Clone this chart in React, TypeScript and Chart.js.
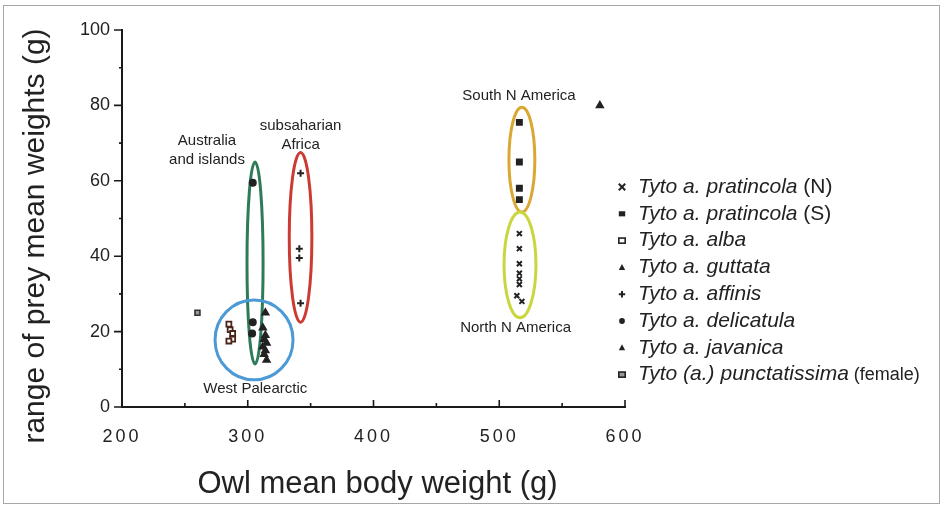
import React, { useEffect, useRef } from 'react';
import { Chart, registerables } from 'chart.js';

Chart.register(...registerables);

const FONT = '"Liberation Sans", Arial, Helvetica, sans-serif';

// ---------- data ----------
const seriesNames = [
  'Tyto a. pratincola (N)',
  'Tyto a. pratincola (S)',
  'Tyto a. alba',
  'Tyto a. guttata',
  'Tyto a. affinis',
  'Tyto a. delicatula',
  'Tyto a. javanica',
  'Tyto (a.) punctatissima (female)',
];
const legendItalic = [
  'Tyto a. pratincola',
  'Tyto a. pratincola',
  'Tyto a. alba',
  'Tyto a. guttata',
  'Tyto a. affinis',
  'Tyto a. delicatula',
  'Tyto a. javanica',
  'Tyto (a.) punctatissima',
];
const legendSuffix = [' (N)', ' (S)', '', '', '', '', '', ' (female)'];

const pratNX = [516, 516, 516, 516, 516, 516, 514, 518];
const pratNY = [46, 42, 38, 35.5, 34, 32.5, 29.5, 28];

const pratSX = [516, 516, 516, 516];
const pratSY = [75.5, 65, 58, 55];

const albaX = [285, 286, 288, 288, 285];
const albaY = [22, 20.5, 19.5, 18, 17.5];

const guttataX = [314, 312, 314, 313, 315, 312, 314, 313, 315];
const guttataY = [25, 21, 19, 18, 17, 16, 15, 14, 12.5];

const affinisX = [342, 341, 341, 342];
const affinisY = [62, 42, 39.5, 27.5];

const delicatulaX = [304, 304, 303.5];
const delicatulaY = [59.5, 22.5, 19.5];

const javanicaX = [580];
const javanicaY = [80];

const punctX = [260];
const punctY = [25];

const xTickValues = [200, 300, 400, 500, 600];
const xMinorTicks = [250, 350, 450, 550];
const yTickValues = [0, 20, 40, 60, 80, 100];
const yMinorTicks = [10, 30, 50, 70, 90];

// region ellipses (data units) and labels
const ellipseCX = [305.8, 342, 305, 518, 516.5];
const ellipseCY = [38.2, 45, 17.8, 65.6, 37.7];
const ellipseRX = [6.4, 9, 31, 10.3, 12.7];
const ellipseRY = [26.8, 22.5, 10.6, 13.9, 14];
const ellipseColors = ['#2f7a58', '#cc3a33', '#4b9ad6', '#d9a832', '#c9d63f'];

const regionText = [
  ['Australia', 'and islands'],
  ['subsaharian', 'Africa'],
  ['South N America'],
  ['North N America'],
  ['West Palearctic'],
];
const regionX = [267.6, 342, 515.7, 513, 306];
const regionY = [70.5, 74.5, 82.5, 21, 4.8];

// ---------- helpers ----------
type Marker = 'crossRot' | 'rectFill' | 'rectOpen' | 'triangle' | 'cross' | 'circle' | 'rectGrey';
const markers: Marker[] = ['crossRot', 'rectFill', 'rectOpen', 'triangle', 'cross', 'circle', 'triangle', 'rectGrey'];

function drawMarker(ctx: CanvasRenderingContext2D, m: Marker, x: number, y: number, r: number) {
  ctx.save();
  ctx.strokeStyle = '#222';
  ctx.fillStyle = '#222';
  ctx.lineWidth = 2;
  ctx.beginPath();
  if (m === 'crossRot') {
    ctx.moveTo(x - r, y - r); ctx.lineTo(x + r, y + r);
    ctx.moveTo(x + r, y - r); ctx.lineTo(x - r, y + r);
    ctx.stroke();
  } else if (m === 'cross') {
    ctx.moveTo(x - r, y); ctx.lineTo(x + r, y);
    ctx.moveTo(x, y - r); ctx.lineTo(x, y + r);
    ctx.stroke();
  } else if (m === 'triangle') {
    ctx.moveTo(x, y - r * 1.1); ctx.lineTo(x + r, y + r * 0.8); ctx.lineTo(x - r, y + r * 0.8);
    ctx.closePath(); ctx.fill();
  } else if (m === 'circle') {
    ctx.arc(x, y, r * 0.9, 0, Math.PI * 2); ctx.fill();
  } else if (m === 'rectFill') {
    ctx.fillRect(x - r, y - r * 0.8, 2 * r, 1.6 * r);
  } else if (m === 'rectOpen') {
    ctx.lineWidth = 1.6;
    ctx.fillStyle = '#fff';
    ctx.fillRect(x - r, y - r * 0.8, 2 * r, 1.6 * r);
    ctx.strokeRect(x - r, y - r * 0.8, 2 * r, 1.6 * r);
  } else {
    ctx.lineWidth = 1.6;
    ctx.fillStyle = '#999';
    ctx.fillRect(x - r, y - r * 0.8, 2 * r, 1.6 * r);
    ctx.strokeRect(x - r, y - r * 0.8, 2 * r, 1.6 * r);
  }
  ctx.restore();
}

const decorPlugin = {
  id: 'decor',
  beforeDraw(chart: any) {
    const { ctx, width, height } = chart;
    ctx.save();
    ctx.fillStyle = '#fff';
    ctx.fillRect(0, 0, width, height);
    ctx.strokeStyle = '#a8a8a8';
    ctx.lineWidth = 1;
    ctx.strokeRect(3.5, 5.5, width - 6, height - 8);
    ctx.restore();
  },
  beforeDatasetsDraw(chart: any) {
    const { ctx } = chart;
    const xs = chart.scales.x, ys = chart.scales.y;
    ctx.save();
    ctx.lineWidth = 3;
    for (let i = 0; i < ellipseCX.length; i++) {
      const cx = xs.getPixelForValue(ellipseCX[i]);
      const cy = ys.getPixelForValue(ellipseCY[i]);
      const rx = Math.abs(xs.getPixelForValue(ellipseCX[i] + ellipseRX[i]) - cx);
      const ry = Math.abs(ys.getPixelForValue(ellipseCY[i] + ellipseRY[i]) - cy);
      ctx.strokeStyle = ellipseColors[i];
      ctx.beginPath();
      ctx.ellipse(cx, cy, rx, ry, 0, 0, Math.PI * 2);
      ctx.stroke();
    }
    ctx.restore();
  },
  afterDatasetsDraw(chart: any) {
    // the x tick labels (z: 1) are drawn after this hook: spaced digits as in the original
    (chart.ctx as any).letterSpacing = '3px';
  },
  afterDraw(chart: any) {
    const { ctx, chartArea } = chart;
    (ctx as any).letterSpacing = '0px';
    const xs = chart.scales.x, ys = chart.scales.y;
    ctx.save();
    // tick marks
    ctx.strokeStyle = '#1a1a1a';
    ctx.lineWidth = 1.6;
    ctx.beginPath();
    xTickValues.forEach((v) => {
      const px = xs.getPixelForValue(v);
      ctx.moveTo(px, chartArea.bottom); ctx.lineTo(px, chartArea.bottom - 7);
    });
    xMinorTicks.forEach((v) => {
      const px = xs.getPixelForValue(v);
      ctx.moveTo(px, chartArea.bottom); ctx.lineTo(px, chartArea.bottom - 4);
    });
    yTickValues.forEach((v) => {
      const py = ys.getPixelForValue(v);
      ctx.moveTo(chartArea.left, py); ctx.lineTo(chartArea.left - 8, py);
    });
    yMinorTicks.forEach((v) => {
      const py = ys.getPixelForValue(v);
      ctx.moveTo(chartArea.left, py); ctx.lineTo(chartArea.left - 3, py);
    });
    ctx.stroke();

    // region labels
    ctx.fillStyle = '#222';
    ctx.font = `15px ${FONT}`;
    ctx.textAlign = 'center';
    ctx.textBaseline = 'middle';
    regionText.forEach((lines, i) => {
      const px = xs.getPixelForValue(regionX[i]);
      const py = ys.getPixelForValue(regionY[i]);
      lines.forEach((t, j) => ctx.fillText(t, px, py + j * 19));
    });

    // axis titles
    ctx.font = `31px ${FONT}`;
    ctx.fillText('Owl mean body weight (g)', (chartArea.left + chartArea.right) / 2 + 4, 484);
    ctx.save();
    ctx.translate(36, 236);
    ctx.rotate(-Math.PI / 2);
    ctx.font = `30px ${FONT}`;
    ctx.fillText('range of prey mean weights (g)', 0, 0);
    ctx.restore();

    // legend
    const lx = 622, tx = 638, ly0 = 187, ldy = 26.8;
    ctx.textAlign = 'left';
    legendItalic.forEach((t, i) => {
      const y = ly0 + i * ldy;
      drawMarker(ctx, markers[i], lx, y, 3.2);
      ctx.fillStyle = '#222';
      ctx.font = `italic 21px ${FONT}`;
      ctx.fillText(t, tx, y);
      const w = ctx.measureText(t).width;
      if (legendSuffix[i]) {
        ctx.font = `${i === 7 ? 18 : 21}px ${FONT}`;
        ctx.fillText(legendSuffix[i], tx + w, y);
      }
    });
    ctx.restore();
  },
};

function pts(xs: number[], ys: number[]) {
  return xs.map((x, i) => ({ x, y: ys[i] }));
}

export default function App() {
  const ref = useRef<HTMLCanvasElement>(null);
  useEffect(() => {
    const common = { pointRadius: 3.5, pointHoverRadius: 3.5, borderWidth: 2 };
    const chart = new Chart(ref.current!, {
      type: 'scatter',
      data: {
        datasets: [
          { label: seriesNames[0], data: pts(pratNX, pratNY), pointStyle: 'crossRot', borderColor: '#222', backgroundColor: '#222', ...common },
          { label: seriesNames[1], data: pts(pratSX, pratSY), pointStyle: 'rect', borderColor: '#222', backgroundColor: '#222', ...common },
          { label: seriesNames[2], data: pts(albaX, albaY), pointStyle: 'rect', borderColor: '#4a2418', backgroundColor: '#fff', ...common, borderWidth: 1.8 },
          { label: seriesNames[3], data: pts(guttataX, guttataY), pointStyle: 'triangle', borderColor: '#222', backgroundColor: '#222', ...common },
          { label: seriesNames[4], data: pts(affinisX, affinisY), pointStyle: 'cross', borderColor: '#222', backgroundColor: '#222', ...common },
          { label: seriesNames[5], data: pts(delicatulaX, delicatulaY), pointStyle: 'circle', borderColor: '#222', backgroundColor: '#222', ...common, pointRadius: 3 },
          { label: seriesNames[6], data: pts(javanicaX, javanicaY), pointStyle: 'triangle', borderColor: '#222', backgroundColor: '#222', ...common },
          { label: seriesNames[7], data: pts(punctX, punctY), pointStyle: 'rect', borderColor: '#333', backgroundColor: '#999', ...common, borderWidth: 1.6 },
        ],
      },
      options: {
        responsive: false,
        animation: false,
        events: [],
        layout: { padding: { top: 30, right: 317, left: 0, bottom: 0 } },
        plugins: { legend: { display: false }, tooltip: { enabled: false } },
        scales: {
          x: {
            type: 'linear',
            min: 200,
            max: 600,
            afterFit: (s: any) => { s.height = 99; },
            afterBuildTicks: (s: any) => { s.ticks = xTickValues.map((v) => ({ value: v })); },
            grid: { display: false, drawTicks: false },
            border: { display: true, color: '#1a1a1a', width: 2 },
            ticks: { z: 1, padding: 19, color: '#222', font: { family: FONT, size: 18 }, maxRotation: 0 },
          },
          y: {
            type: 'linear',
            min: 0,
            max: 100,
            afterFit: (s: any) => { s.width = 122; },
            afterBuildTicks: (s: any) => { s.ticks = yTickValues.map((v) => ({ value: v })); },
            grid: { display: false, drawTicks: false },
            border: { display: true, color: '#1a1a1a', width: 2 },
            ticks: { padding: 12, color: '#222', font: { family: FONT, size: 18 } },
          },
        },
      },
      plugins: [decorPlugin],
    } as any);
    return () => chart.destroy();
  }, []);
  return (
    <div style={{ position: 'absolute', left: 0, top: 0, width: 942, height: 506, background: '#fff' }}>
      <canvas ref={ref} width={942} height={506} style={{ display: 'block', width: 942, height: 506 }} />
    </div>
  );
}
